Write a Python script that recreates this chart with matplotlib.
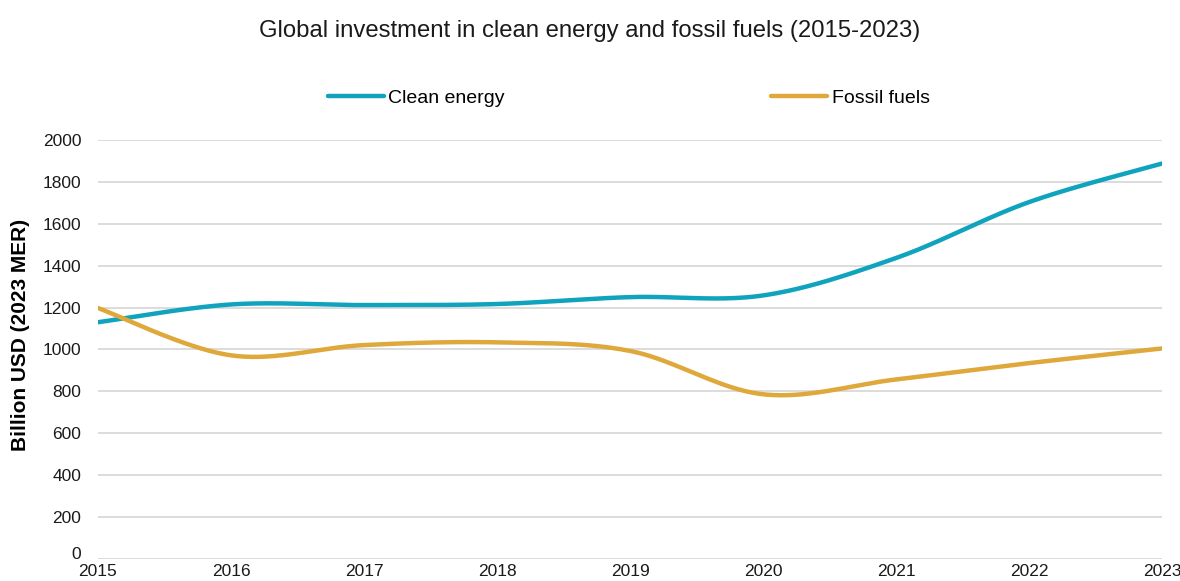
import numpy as np
import matplotlib.pyplot as plt
from matplotlib import font_manager
from matplotlib.transforms import ScaledTranslation

# Data (billion USD, 2023 MER)
years = [2015, 2016, 2017, 2018, 2019, 2020, 2021, 2022, 2023]
clean_energy = [1130, 1215, 1212, 1217, 1250, 1258, 1437, 1704, 1888]
fossil_fuels = [1198, 972, 1021, 1034, 993, 786, 857, 935, 1005]

names = {f.name for f in font_manager.fontManager.ttflist}
fam = [f for f in ['Liberation Sans Narrow', 'Arial Narrow', 'Liberation Sans', 'DejaVu Sans'] if f in names]
plt.rcParams['font.family'] = fam


def smooth(x, y, n=40):
    # Excel-style smoothed line: cubic Bezier with Catmull-Rom control points
    x = np.asarray(x, float)
    y = np.asarray(y, float)
    px = np.concatenate([[x[0]], x, [x[-1]]])
    py = np.concatenate([[y[0]], y, [y[-1]]])
    xs, ys = [], []
    t = np.linspace(0, 1, n)
    for i in range(1, len(px) - 2):
        p0 = np.array([px[i], py[i]])
        p3 = np.array([px[i + 1], py[i + 1]])
        c1 = p0 + (np.array([px[i + 1], py[i + 1]]) - np.array([px[i - 1], py[i - 1]])) / 6
        c2 = p3 - (np.array([px[i + 2], py[i + 2]]) - np.array([px[i], py[i]])) / 6
        b = ((1 - t) ** 3)[:, None] * p0 + (3 * (1 - t) ** 2 * t)[:, None] * c1 \
            + (3 * (1 - t) * t ** 2)[:, None] * c2 + (t ** 3)[:, None] * p3
        xs.extend(b[:, 0])
        ys.extend(b[:, 1])
    return xs, ys


fig = plt.figure(figsize=(11.8, 5.81), dpi=100)
ax = fig.add_axes([0.083, 0.038, 0.902, 0.721])

cx, cy = smooth(years, clean_energy)
fx, fy = smooth(years, fossil_fuels)
ax.plot(cx, cy, color='#0fa3bd', lw=3.2, solid_capstyle='round', label='Clean energy')
ax.plot(fx, fy, color='#dfa83b', lw=3.2, solid_capstyle='round', label='Fossil fuels')

ax.set_xlim(2015, 2023)
ax.set_ylim(0, 2000)
ax.set_yticks(np.arange(0, 2001, 200))
ax.set_xticks(years)
ax.grid(axis='y', color='#d9d9d9', lw=1.3)
ax.set_axisbelow(True)
for s in ax.spines.values():
    s.set_visible(False)
ax.tick_params(length=0, labelsize=12.5, colors='#1a1a1a')
ax.tick_params(axis='y', pad=12)
ax.tick_params(axis='x', pad=4)
ax.set_ylabel('Billion USD (2023 MER)', fontsize=15, fontweight='bold')
ax.yaxis.set_label_coords(-0.064, 0.535)

# the "0" label sits a little higher, as in the original
zero = ax.get_yticklabels()[0]
zero.set_transform(zero.get_transform() + ScaledTranslation(0, 4 / 72, fig.dpi_scale_trans))

fig.text(0.5, 0.947, 'Global investment in clean energy and fossil fuels (2015-2023)',
         ha='center', va='center', fontsize=17.2, color='#1a1a1a')
leg = fig.legend(loc='center', bbox_to_anchor=(0.533, 0.831), ncol=2, frameon=False,
                 fontsize=14, handlelength=2.85, handletextpad=0.25, columnspacing=13.7)

fig.savefig('out.png', dpi=100)
